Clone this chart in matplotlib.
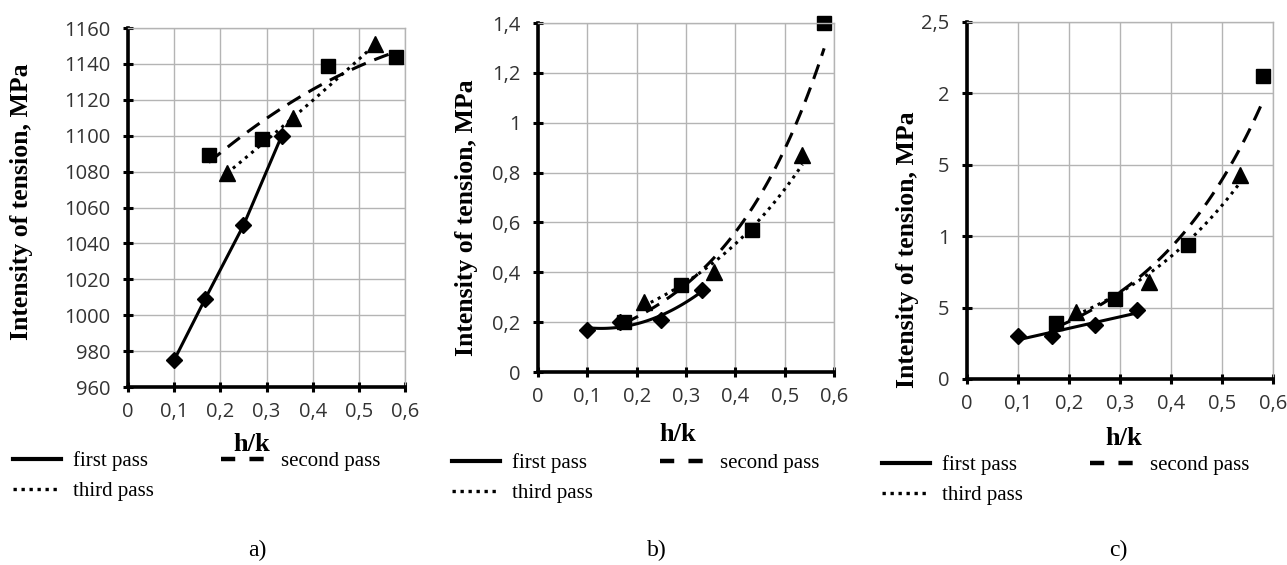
import numpy as np
import matplotlib
matplotlib.use('Agg')
import matplotlib.pyplot as plt
from matplotlib.lines import Line2D

# ---- data ----
x_first = [0.1, 0.167, 0.25, 0.333]
x_second = [0.175, 0.29, 0.433, 0.58]
x_third = [0.214, 0.357, 0.536]

a_first = [975, 1009, 1050, 1100]
a_second = [1089, 1098, 1139, 1144]
a_third = [1079, 1110, 1151]

b_first = [0.17, 0.20, 0.21, 0.33]
b_second = [0.20, 0.35, 0.57, 1.40]
b_third = [0.28, 0.40, 0.87]

c_first = [0.30, 0.30, 0.38, 0.48]
c_second = [0.39, 0.56, 0.94, 2.12]
c_third = [0.47, 0.68, 1.43]

x_ticks = [0, 0.1, 0.2, 0.3, 0.4, 0.5, 0.6]
x_ticklabels = ['0', '0,1', '0,2', '0,3', '0,4', '0,5', '0,6']
a_yticks = [960, 980, 1000, 1020, 1040, 1060, 1080, 1100, 1120, 1140, 1160]
b_yticks = [0, 0.2, 0.4, 0.6, 0.8, 1.0, 1.2, 1.4]
b_yticklabels = ['0', '0,2', '0,4', '0,6', '0,8', '1', '1,2', '1,4']
c_yticks = [0, 0.5, 1.0, 1.5, 2.0, 2.5]
c_yticklabels = ['0', '5', '1', '5', '2', '2,5']

labels = ['first pass', 'second pass', 'third pass']
panel_names = ['a)', 'b)', 'c)']

serif = 'Liberation Serif'
sans = 'Open Sans'

fig = plt.figure(figsize=(12.87, 5.65), dpi=100)

W, H = 1287.0, 565.0
def box(l, t, r, b):
    return [l / W, 1 - b / H, (r - l) / W, (b - t) / H]

ax_a = fig.add_axes(box(128, 28, 405, 387))
ax_b = fig.add_axes(box(538, 23, 834, 372))
ax_c = fig.add_axes(box(967, 22, 1273, 379))


def trend(ax, xs, ys, kind, **kw):
    # excel-like trend lines: 'poly1', 'poly2' or 'exp'
    xs = np.array(xs)
    ys = np.array(ys, dtype=float)
    xx = np.linspace(xs.min(), xs.max(), 120)
    if kind == 'exp':
        k, b = np.polyfit(xs, np.log(ys), 1)
        yy = np.exp(b + k * xx)
    else:
        yy = np.polyval(np.polyfit(xs, ys, int(kind[-1])), xx)
    ax.plot(xx, yy, color='black', **kw)


def style(ax, ylim, yticks, yticklabels):
    ax.set_xlim(0, 0.6)
    ax.set_ylim(*ylim)
    ax.set_xticks(x_ticks)
    ax.set_xticklabels(x_ticklabels)
    ax.set_yticks(yticks)
    ax.set_yticklabels(yticklabels)
    ax.grid(True, color='#b4b4b4', linewidth=1.0)
    ax.set_axisbelow(True)
    for s in ['top', 'right']:
        ax.spines[s].set_color('#b4b4b4')
        ax.spines[s].set_linewidth(1.0)
    for s in ['left', 'bottom']:
        ax.spines[s].set_color('black')
        ax.spines[s].set_linewidth(2.6)
    ax.tick_params(direction='inout', length=7, width=2.2, color='black',
                   labelsize=14.5, labelcolor='#333333')
    ax.tick_params(axis='x', pad=7)
    ax.tick_params(axis='y', pad=9)
    for t in ax.get_xticklabels() + ax.get_yticklabels():
        t.set_fontfamily(sans)


dash = dict(linestyle=(0, (5, 3)), linewidth=2.2)
dots = dict(linestyle=(0, (1, 1.6)), linewidth=2.2)
solid = dict(linestyle='-', linewidth=2.2)
mk = dict(color='black', linestyle='none', clip_on=False)

# panel a
ax_a.plot(x_first, a_first, color='black', marker='D', markersize=8, **solid)
trend(ax_a, x_second, a_second, 'poly2', **dash)
trend(ax_a, x_third, a_third, 'poly2', **dots)
ax_a.plot(x_second, a_second, marker='s', markersize=9.5, **mk)
ax_a.plot(x_third, a_third, marker='^', markersize=12, **mk)
style(ax_a, (960, 1160), a_yticks, [str(v) for v in a_yticks])

# panel b
trend(ax_b, x_first, b_first, 'poly2', **solid)
trend(ax_b, x_second, b_second, 'exp', **dash)
trend(ax_b, x_third, b_third, 'exp', **dots)
ax_b.plot(x_first, b_first, marker='D', markersize=8, **mk)
ax_b.plot(x_second, b_second, marker='s', markersize=9.5, **mk)
ax_b.plot(x_third, b_third, marker='^', markersize=12, **mk)
style(ax_b, (0, 1.4), b_yticks, b_yticklabels)

# panel c
trend(ax_c, x_first, c_first, 'poly1', **solid)
trend(ax_c, x_second, c_second, 'exp', **dash)
trend(ax_c, x_third, c_third, 'exp', **dots)
ax_c.plot(x_first, c_first, marker='D', markersize=8, **mk)
ax_c.plot(x_second, c_second, marker='s', markersize=9.5, **mk)
ax_c.plot(x_third, c_third, marker='^', markersize=12, **mk)
style(ax_c, (0, 2.5), c_yticks, c_yticklabels)

# axis labels
label_pos = [(-0.383, 0.515, 0.448, -0.16),
             (-0.24, 0.441, 0.473, -0.18),
             (-0.196, 0.361, 0.513, -0.166)]
for ax, (yx, yy, xx, xy) in zip([ax_a, ax_b, ax_c], label_pos):
    ax.set_ylabel('Intensity of tension, MPa', fontfamily=serif,
                  fontweight='bold', fontsize=18.5)
    ax.yaxis.set_label_coords(yx, yy)
    ax.yaxis.label.set_va('center')
    ax.set_xlabel('h/k', fontfamily=serif, fontweight='bold', fontsize=19)
    ax.xaxis.set_label_coords(xx, xy)
    ax.xaxis.label.set_va('center')

# legends
handles = [Line2D([], [], color='black', linestyle='-', linewidth=3),
           Line2D([], [], color='black', linestyle=(0, (1, 1.4)), linewidth=2.4),
           Line2D([], [], color='black', linestyle=(0, (3.2, 3.2)), linewidth=3.2)]
leg_labels = [labels[0], labels[2], labels[1]]
leg_pos = [(13, 451), (452, 453), (882, 455)]
for ax, (lx, ly) in zip([ax_a, ax_b, ax_c], leg_pos):
    ax.legend(handles, leg_labels, ncol=2, frameon=False,
              loc='upper left', bbox_to_anchor=(lx / W, 1 - ly / H),
              bbox_transform=fig.transFigure, borderpad=0, borderaxespad=0,
              handlelength=2.3, handletextpad=0.6, columnspacing=3.2,
              labelspacing=0.5, prop={'family': serif, 'size': 15})

# panel letters
for name, px in zip(panel_names, [257, 657, 1118]):
    fig.text(px / W, 1 - 550 / H, name, ha='center', va='center',
             fontfamily=serif, fontsize=17)

plt.savefig('out.png', dpi=100)
